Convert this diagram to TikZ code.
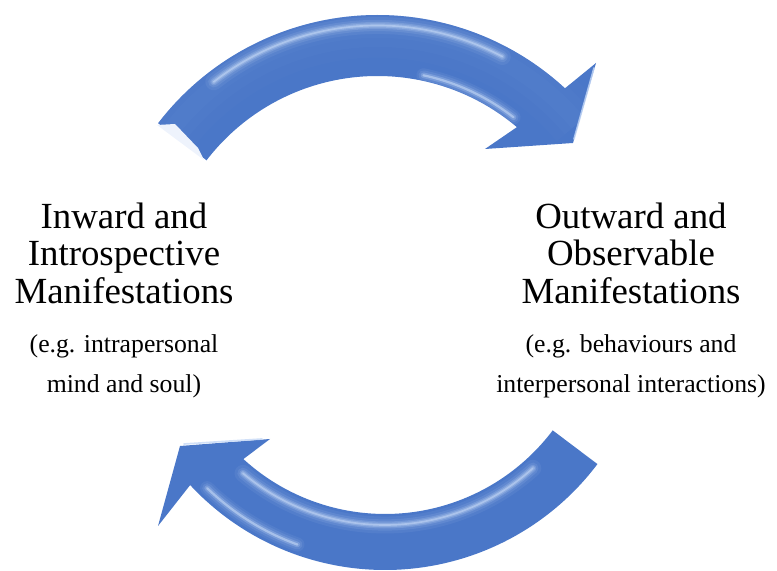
\documentclass[tikz,border=0pt]{standalone}
\usepackage{fontspec}
\setmainfont{Liberation Serif}
\usepackage{tikz}
\usetikzlibrary{positioning,calc}
\definecolor{ArrowBody}{HTML}{4A77C8}
\definecolor{ArrowLight}{HTML}{5B86D0}
\definecolor{ArrowGlow}{HTML}{C5D8F6}
\newcommand{\upperarrow}{($(c1)+(142.5:276.5)$) arc[start angle=142.5,end angle=47.3,radius=276.5] -- (596,508) -- (573,428) -- (485,422) -- ($(c1)+(49.7:215.5)$) arc[start angle=49.7,end angle=142.5,radius=215.5] -- cycle}
\newcommand{\lowerarrow}{($(c2)+(-37:266)$) arc[start angle=-37,end angle=-137.1,radius=266] -- (158,45) -- (180,125) -- (270,132) -- ($(c2)+(-132.4:210)$) arc[start angle=-132.4,end angle=-37,radius=210] -- cycle}
\tikzset{
  cyclearrow/.style={fill=ArrowBody,line join=round},
  glow/.style={draw=ArrowGlow,line cap=round},
  facet/.style={draw=ArrowGlow,line width=1.2pt,line cap=round,opacity=.8},
  title/.style={font=\fontsize{26.2}{26.7}\selectfont,align=center,inner sep=0pt},
  example/.style={font=\fontsize{18.3}{28.5}\selectfont,align=center,inner sep=0pt}
}
\begin{document}
\begin{tikzpicture}[x=0.025cm,y=0.025cm]
  \useasboundingbox (0,0) rectangle (777,571);
  \coordinate (c1) at (377.5,279.5);
  \coordinate (c2) at (385,267);
  % upper arrow, left to right
  \fill[cyclearrow] \upperarrow;
  \begin{scope}
    \clip \upperarrow;
    \foreach \w/\o in {40/.12,25/.15,12/.2}
      \draw[ArrowLight,line width=\w,opacity=\o] ($(c1)+(150:262)$) arc[start angle=150,end angle=40,radius=262];
    \foreach \w/\o in {12/.08,8/.12,5/.2,3/.3,1.2/.55}
      \draw[glow,line width=\w,opacity=\o] ($(c1)+(128:266)$) arc[start angle=128,end angle=62,radius=266];
    \foreach \w/\o in {10/.08,7/.12,4/.25,1.6/.6}
      \draw[glow,line width=\w,opacity=\o] ($(c1)+(78:221)$) arc[start angle=78,end angle=52,radius=221];
  \end{scope}
  \fill[white!70!ArrowGlow] (157,446) -- (204,411) -- (198,423) -- (175,447) -- cycle;
  \draw[facet] (594,503) -- (574,432);
  % lower arrow, right to left
  \fill[cyclearrow] \lowerarrow;
  \begin{scope}
    \clip \lowerarrow;
    \foreach \w/\o in {12/.08,8/.12,5/.2,3/.3,1.2/.55}
      \draw[glow,line width=\w,opacity=\o] ($(c2)+(-130:221)$) arc[start angle=-130,end angle=-48,radius=221];
    \foreach \w/\o in {10/.08,7/.12,4/.25,1.6/.6}
      \draw[glow,line width=\w,opacity=\o] ($(c2)+(-134:256)$) arc[start angle=-134,end angle=-110,radius=256];
  \end{scope}
  \draw[facet] (184,127) -- (262,132);
  % labels
  \node[title,anchor=north] (inward) at (124,368.6) {Inward and\\Introspective\\Manifestations};
  \node[example,below=0.75cm of inward] (inwardeg) {(e.g. intrapersonal\\mind and soul)};
  \node[title,anchor=north] (outward) at (631,368.6) {Outward and\\Observable\\Manifestations};
  \node[example,below=0.75cm of outward] (outwardeg) {(e.g. behaviours and\\interpersonal interactions)};
\end{tikzpicture}
\end{document}
